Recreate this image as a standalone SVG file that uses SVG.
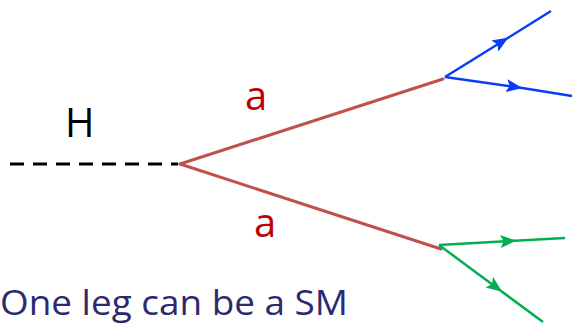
<svg xmlns="http://www.w3.org/2000/svg" width="577" height="332" viewBox="0 0 577 332">
<style>
.red{stroke:#C0504D;stroke-width:3;fill:none;stroke-linecap:round}
.blue{stroke:#0A3CF5;stroke-width:2.5;fill:none}
.green{stroke:#00B050;stroke-width:2.5;fill:none}
.lbl{font-family:"Open Sans","Liberation Sans",sans-serif}
</style>
<defs>
<marker id="ab" viewBox="0 0 10 10" refX="6" refY="5" markerWidth="16" markerHeight="13" markerUnits="userSpaceOnUse" orient="auto" preserveAspectRatio="none"><path d="M0,0 L10,5 L0,10 L2,5 z" fill="#0A3CF5"/></marker>
<marker id="ag" viewBox="0 0 10 10" refX="6" refY="5" markerWidth="16" markerHeight="13" markerUnits="userSpaceOnUse" orient="auto" preserveAspectRatio="none"><path d="M0,0 L10,5 L0,10 L2,5 z" fill="#00B050"/></marker>
</defs>
<g id="connectors">
<line x1="10" y1="164" x2="178" y2="164" stroke="#000" stroke-width="3" stroke-dasharray="14 9"/>
<line class="red" x1="180" y1="164" x2="443" y2="79"/>
<line class="red" x1="180" y1="164" x2="441" y2="249"/>
<path class="blue" d="M445,77 L503,41 L551,11" marker-mid="url(#ab)"/>
<path class="blue" d="M445,77 L516,87 L572,96" marker-mid="url(#ab)"/>
<path class="green" d="M439,245 L510,241 L565,238" marker-mid="url(#ag)"/>
<path class="green" d="M439,245 L497,288 L543,322" marker-mid="url(#ag)"/>
</g>
<g id="labels">
<text class="lbl" x="65" y="137" font-size="40" fill="#000">H</text>
<text class="lbl" x="245" y="110" font-size="40" fill="#C00000">a</text>
<text class="lbl" x="254" y="237" font-size="40" fill="#C00000">a</text>
<text class="lbl" x="0" y="315" font-size="35" fill="#2B2A6F" textLength="348" lengthAdjust="spacingAndGlyphs">One leg can be a SM</text>
</g>
</svg>
